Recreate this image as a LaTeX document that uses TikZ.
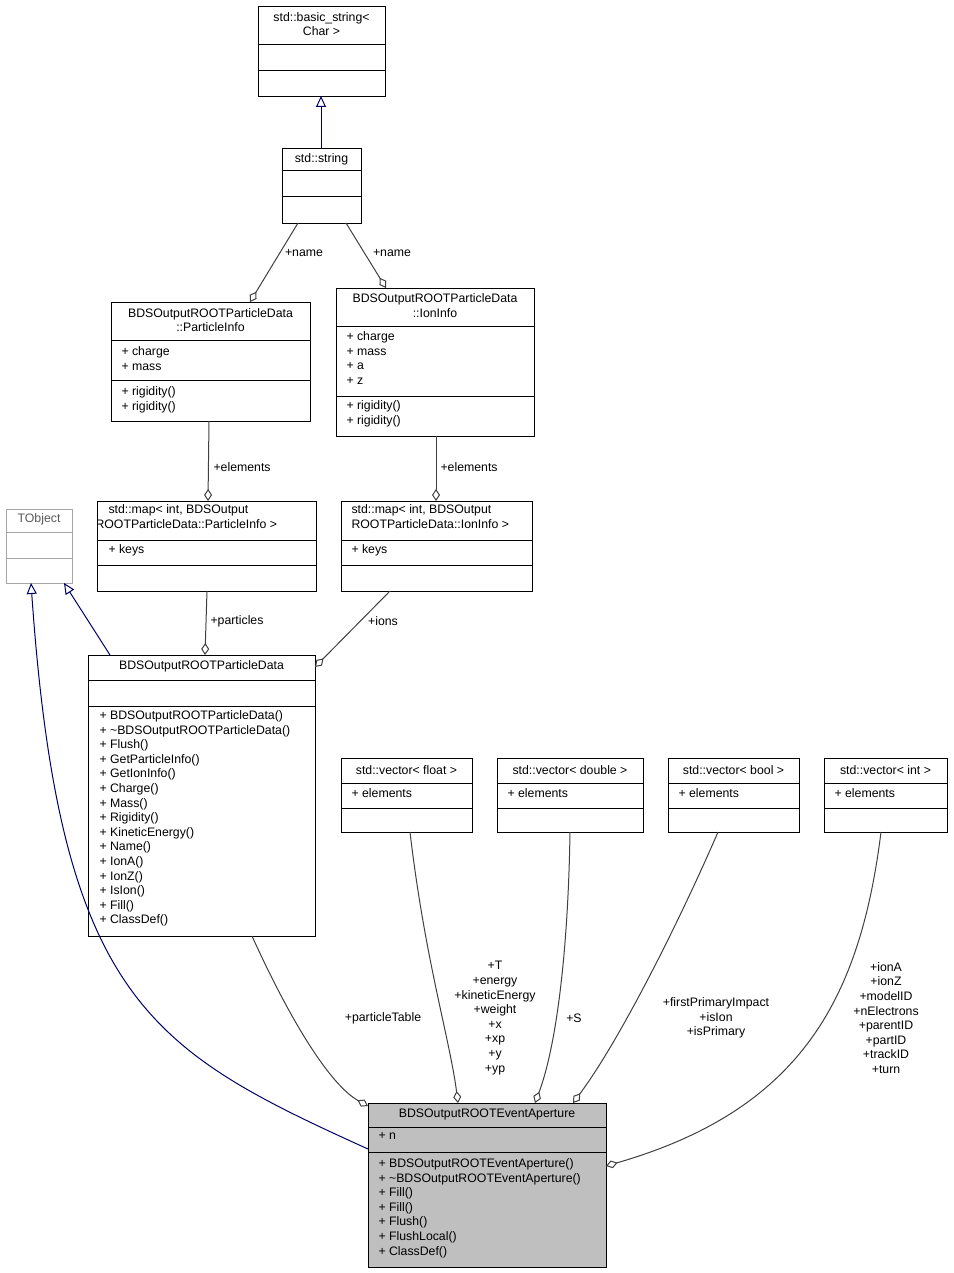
\documentclass[tikz,border=0pt]{standalone}
\usepackage{fontspec}
\setmainfont{Liberation Sans}
\usetikzlibrary{arrows.meta}
\begin{document}
\begin{tikzpicture}[x=1pt,y=-1pt,line width=1pt,
  box/.style={draw=black,fill=white,anchor=north west,inner sep=0,line width=1pt},
  gbox/.style={box,draw=gray!70},
  txt/.style={anchor=north west,inner sep=0,align=left,font=\fontsize{12.3}{14.6}\selectfont},
  ctxt/.style={inner sep=0,align=center,font=\fontsize{12.3}{14.6}\selectfont},
  lbl/.style={ctxt,fill=white},
  agg/.style={draw=black!75,line width=1pt,-{Diamond[open,length=12pt,width=8pt]}},
  inh/.style={draw=blue!40!black,line width=1pt,-{Triangle[open,length=11pt,width=10pt]}}]
\useasboundingbox (0,0) rectangle (953,1273);
% basic_string
\node[box,minimum width=127pt,minimum height=90pt] (bs) at (258,6) {};
\draw (258,45)--(385,45) (258,71)--(385,71);
\node[ctxt] (bst) at (321.5,24) {std::basic\_string\textless\\Char \textgreater};
% string
\node[box,minimum width=79pt,minimum height=75pt] (st) at (282,148) {};
\draw (282,171)--(361,171) (282,197)--(361,197);
\node[ctxt] (stt) at (321.5,159) {std::string};
% ParticleInfo
\node[box,minimum width=199pt,minimum height=119pt] (pi) at (111,302) {};
\draw (111,340)--(310,340) (111,380)--(310,380);
\node[ctxt] (pit) at (210.5,320) {BDSOutputROOTParticleData\\::ParticleInfo};
\node[txt] (pia) at (121,346) {+ charge\\+ mass};
\node[txt] (pim) at (121,386) {+ rigidity()\\+ rigidity()};
% IonInfo
\node[box,minimum width=198pt,minimum height=148pt] (ii) at (336,288) {};
\draw (336,326)--(534,326) (336,396)--(534,396);
\node[ctxt] (iit) at (435,305.5) {BDSOutputROOTParticleData\\::IonInfo};
\node[txt] (iia) at (346,331) {+ charge\\+ mass\\+ a\\+ z};
\node[txt] (iim) at (346,400) {+ rigidity()\\+ rigidity()};
% TObject
\node[gbox,minimum width=66pt,minimum height=74pt] (to) at (6,509) {};
\draw[gray!70] (6,532)--(72,532) (6,558)--(72,558);
\node[ctxt,text=gray!70!black] (tot) at (39,519) {TObject};
% map PI
\node[box,minimum width=219pt,minimum height=90pt] (mp) at (97,501) {};
\draw (97,540)--(316,540) (97,565)--(316,565);
\begin{scope}
\clip (97,501) rectangle (316,591);
\node[txt] (mpt) at (108,504) {std::map\textless{} int, BDSOutput\\\hspace*{-13pt}ROOTParticleData::ParticleInfo \textgreater};
\end{scope}
\node[txt] (mpa) at (108,544) {+ keys};
% map Ion
\node[box,minimum width=191pt,minimum height=90pt] (mi) at (341,501) {};
\draw (341,540)--(532,540) (341,565)--(532,565);
\node[txt] (mit) at (351,504) {std::map\textless{} int, BDSOutput\\ROOTParticleData::IonInfo \textgreater};
\node[txt] (mia) at (351,544) {+ keys};
% ParticleData
\node[box,minimum width=227pt,minimum height=281pt] (pd) at (88,655) {};
\draw (88,680)--(315,680) (88,706)--(315,706);
\node[ctxt] (pdt) at (201.5,666) {BDSOutputROOTParticleData};
\node[txt] (pdm) at (99,710) {+ BDSOutputROOTParticleData()\\+ \textasciitilde BDSOutputROOTParticleData()\\+ Flush()\\+ GetParticleInfo()\\+ GetIonInfo()\\+ Charge()\\+ Mass()\\+ Rigidity()\\+ KineticEnergy()\\+ Name()\\+ IonA()\\+ IonZ()\\+ IsIon()\\+ Fill()\\+ ClassDef()};
% vectors
\node[box,minimum width=131pt,minimum height=74pt] (vf) at (341,758) {};
\draw (341,783)--(472,783) (341,808)--(472,808);
\node[ctxt] at (406.5,770) {std::vector\textless{} float \textgreater};
\node[txt] at (351,788) {+ elements};
\node[box,minimum width=146pt,minimum height=74pt] (vd) at (497,758) {};
\draw (497,783)--(643,783) (497,808)--(643,808);
\node[ctxt] at (570,770) {std::vector\textless{} double \textgreater};
\node[txt] at (507,788) {+ elements};
\node[box,minimum width=131pt,minimum height=74pt] (vb) at (668,758) {};
\draw (668,783)--(799,783) (668,808)--(799,808);
\node[ctxt] at (733.5,770) {std::vector\textless{} bool \textgreater};
\node[txt] at (678,788) {+ elements};
\node[box,minimum width=123pt,minimum height=74pt] (vi) at (824,758) {};
\draw (824,783)--(947,783) (824,808)--(947,808);
\node[ctxt] at (885.5,770) {std::vector\textless{} int \textgreater};
\node[txt] at (834,788) {+ elements};
% EventAperture
\node[box,fill=black!25,minimum width=238pt,minimum height=164pt] (ea) at (368,1103) {};
\draw (368,1127)--(606,1127) (368,1152)--(606,1152);
\node[ctxt] (eat) at (487,1114) {BDSOutputROOTEventAperture};
\node[txt] (eaa) at (378,1132) {+ n};
\node[txt] (eam) at (378,1158) {+ BDSOutputROOTEventAperture()\\+ \textasciitilde BDSOutputROOTEventAperture()\\+ Fill()\\+ Fill()\\+ Flush()\\+ FlushLocal()\\+ ClassDef()};
% connectors
\coordinate (c1) at (321,148); \coordinate (c2) at (321,96);
\draw[inh] (c1) -- (c2);
\coordinate (n1) at (298,223); \coordinate (n2) at (250,302);
\draw[agg] (n1) -- (n2);
\node[lbl] at (304,253) {+name};
\coordinate (n3) at (346,223); \coordinate (n4) at (386,288);
\draw[agg] (n3) -- (n4);
\node[lbl] at (392,253) {+name};
\coordinate (e1) at (209,421); \coordinate (e2) at (208,501);
\draw[agg] (e1) -- (e2);
\node[ctxt,anchor=west] at (213,467) {+elements};
\coordinate (e3) at (436,436); \coordinate (e4) at (436,501);
\draw[agg] (e3) -- (e4);
\node[ctxt,anchor=west] at (440,467) {+elements};
\coordinate (p1) at (207,591); \coordinate (p2) at (205,655);
\draw[agg] (p1) -- (p2);
\node[ctxt,anchor=west] at (210,621) {+particles};
\coordinate (i1) at (390,591); \coordinate (i2) at (315,667);
\draw[agg] (i1) -- (i2);
\node[ctxt] at (383,621) {+ions};
\coordinate (t1) at (110,655); \coordinate (t2) at (64,583);
\draw[inh] (t1) -- (t2);
\coordinate (t3) at (368,1149); \coordinate (t4) at (31,583);
\draw[inh] (t3) .. controls (150,1050) and (60,1000) .. (t4);
\coordinate (q1) at (252,936); \coordinate (q2) at (368,1106);
\draw[agg] (q1) .. controls (290,1020) and (330,1085) .. (q2);
\node[ctxt] at (383,1018) {+particleTable};
\coordinate (f1) at (410,832); \coordinate (f2) at (458,1103);
\draw[agg] (f1) .. controls (425,960) and (450,1040) .. (f2);
\node[ctxt] at (495,1018) {+T\\+energy\\+kineticEnergy\\+weight\\+x\\+xp\\+y\\+yp};
\coordinate (d1) at (570,832); \coordinate (d2) at (535,1103);
\draw[agg] (d1) .. controls (568,960) and (555,1050) .. (d2);
\node[ctxt] at (574,1018) {+S};
\coordinate (b1) at (718,832); \coordinate (b2) at (573,1103);
\draw[agg] (b1) .. controls (680,920) and (620,1040) .. (b2);
\node[ctxt] at (716,1018) {+firstPrimaryImpact\\+isIon\\+isPrimary};
\coordinate (g1) at (881,832); \coordinate (g2) at (606,1166);
\draw[agg] (g1) .. controls (860,1000) and (800,1110) .. (g2);
\node[ctxt] at (886,1018) {+ionA\\+ionZ\\+modelID\\+nElectrons\\+parentID\\+partID\\+trackID\\+turn};
\end{tikzpicture}
\end{document}
